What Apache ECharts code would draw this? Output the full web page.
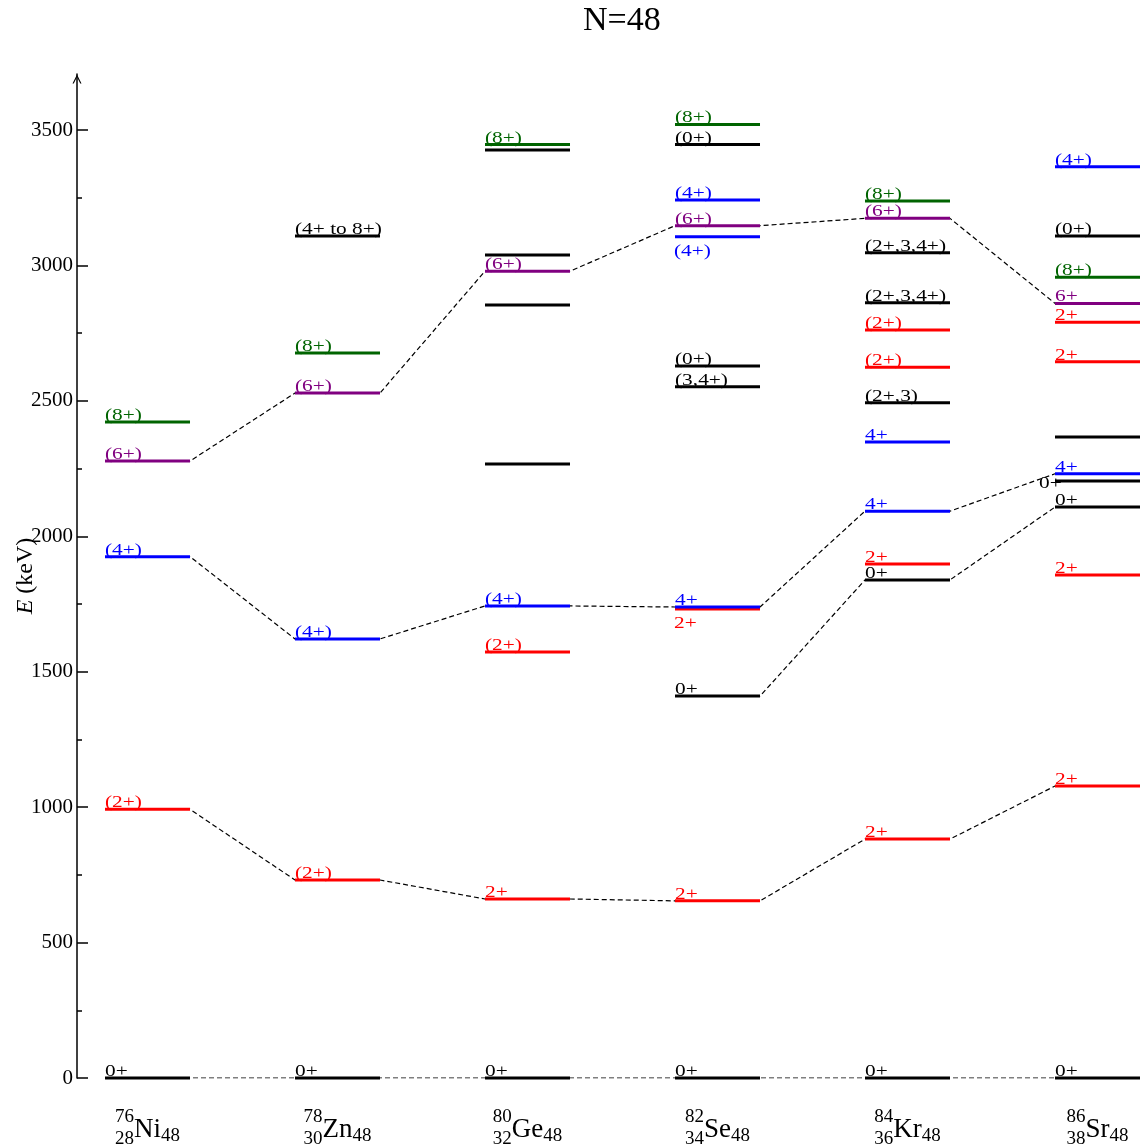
<!DOCTYPE html>
<html>
<head>
<meta charset="utf-8">
<title>N=48</title>
<script src="https://cdn.jsdelivr.net/npm/echarts@6.0.0/dist/echarts.min.js"></script>
<style>
html,body{margin:0;padding:0;background:#ffffff;}
#chart{width:1142px;height:1147px;}
</style>
</head>
<body>
<div id="chart"></div>
<script>
// ---------------- data ----------------
const elements = ['Ni', 'Zn', 'Ge', 'Se', 'Kr', 'Sr'];
const massNumbers = [76, 78, 80, 82, 84, 86];
const protonNumbers = [28, 30, 32, 34, 36, 38];
const neutronNumber = 48;

// levels: [energy (keV), spin-parity label, colour key, label placement]
const levelsNi76 = [[0,'0+','k'],[992,'(2+)','r'],[1925,'(4+)','b'],[2278,'(6+)','p'],[2422,'(8+)','g']];
const levelsZn78 = [[0,'0+','k'],[731,'(2+)','r'],[1621,'(4+)','b'],[2529,'(6+)','p'],[2677,'(8+)','g'],[3109,'(4+ to 8+)','k']];
const levelsGe80 = [[0,'0+','k'],[661,'2+','r'],[1573,'(2+)','r'],[1743,'(4+)','b'],[2267,'','k'],[2854,'','k'],[2979,'(6+)','p'],[3039,'','k'],[3426,'','k'],[3447,'(8+)','g']];
const levelsSe82 = [[0,'0+','k'],[654,'2+','r'],[1410,'0+','k'],[1732,'2+','r','below'],[1739,'4+','b'],[2552,'(3,4+)','k'],[2629,'(0+)','k'],[3106,'(4+)','b','below'],[3147,'(6+)','p'],[3242,'(4+)','b'],[3447,'(0+)','k'],[3521,'(8+)','g']];
const levelsKr84 = [[0,'0+','k'],[882,'2+','r'],[1839,'0+','k'],[1898,'2+','r'],[2093,'4+','b'],[2348,'4+','b'],[2493,'(2+,3)','k'],[2624,'(2+)','r'],[2762,'(2+)','r'],[2862,'(2+,3,4+)','k'],[3047,'(2+,3,4+)','k'],[3174,'(6+)','p'],[3238,'(8+)','g']];
const levelsSr86 = [[0,'0+','k'],[1078,'2+','r'],[1857,'2+','r'],[2108,'0+','k'],[2204,'0+','k','left'],[2231,'4+','b'],[2367,'','k'],[2645,'2+','r'],[2790,'2+','r'],[2860,'6+','p'],[2957,'(8+)','g'],[3109,'(0+)','k'],[3365,'(4+)','b']];

// dashed connections between columns
const bandGround  = [0, 0, 0, 0, 0, 0];
const bandFirst2  = [992, 731, 661, 654, 882, 1078];
const bandFirst4  = [1925, 1621, 1743, 1739, 2093, 2231];
const bandFirst6  = [2278, 2529, 2979, 3147, 3174, 2860];
const bandSecond0 = [null, null, null, 1410, 1839, 2108];

// axis ticks
const yTicks = [0, 500, 1000, 1500, 2000, 2500, 3000, 3500];
const yMinorTicks = [250, 750, 1250, 1750, 2250, 2750, 3250];
const columnTicks = [0, 1, 2, 3, 4, 5];

// ---------------- styling ----------------
const colours = { k: '#000000', r: '#ff0000', b: '#0000ff', p: '#800080', g: '#006400' };
const SERIF = '"Liberation Serif", "Times New Roman", serif';
const HALF = 42.5 / 190; // half width of a level, in column units

const allLevels = [levelsNi76, levelsZn78, levelsGe80, levelsSe82, levelsKr84, levelsSr86];
const levelList = [];
allLevels.forEach(function (lv, col) {
  lv.forEach(function (l) {
    levelList.push({ col: col, e: l[0], label: l[1], c: l[2], pos: l[3] || 'above' });
  });
});

function renderLevel(params, api) {
  const lv = levelList[params.dataIndex];
  const a = api.coord([api.value(0) - HALF, api.value(1)]);
  const b = api.coord([api.value(0) + HALF, api.value(1)]);
  const color = colours[lv.c];
  const children = [{
    type: 'line',
    shape: { x1: a[0], y1: a[1], x2: b[0], y2: b[1] },
    style: { stroke: color, lineWidth: 3 }
  }];
  if (lv.label) {
    let x = a[0], y = a[1] - 6.5;
    if (lv.pos === 'below') { x = a[0] - 1; y = a[1] + 14.8; }
    else if (lv.pos === 'left') { x = a[0] - 16; y = a[1] + 2.3; }
    children.push({
      type: 'text',
      x: x, y: y, scaleX: 1.22,
      style: { text: lv.label, x: 0, y: 0, fill: color, font: '17.5px ' + SERIF, align: 'left', verticalAlign: 'middle' }
    });
  }
  return { type: 'group', children: children };
}

function bandSeries(band) {
  const pts = [];
  band.forEach(function (e, i) {
    if (e != null) { pts.push([i - HALF, e], [i + HALF, e]); }
  });
  return {
    type: 'line', data: pts, symbol: 'none', silent: true, z: 1,
    lineStyle: { color: '#000', width: 1.2, type: [5, 3] }
  };
}

const chart = echarts.init(document.getElementById('chart'));
chart.setOption({
  animation: false,
  backgroundColor: '#ffffff',
  title: {
    text: 'N=48', left: 583, top: 4, padding: 0,
    textStyle: { fontFamily: SERIF, fontSize: 34, fontWeight: 'normal', color: '#000' }
  },
  grid: { left: 77, top: 74, width: 1065, height: 1004, containLabel: false, outerBoundsMode: 'none' },
  xAxis: {
    type: 'value', min: -0.3711, max: 5.2342,
    axisLine: { show: false }, axisTick: { show: false }, splitLine: { show: false },
    axisLabel: {
      customValues: columnTicks,
      margin: 33,
      color: '#000',
      formatter: function (v) {
        const i = Math.round(v);
        return '{sup|' + massNumbers[i] + '}\n{sub|' + protonNumbers[i] + '}{el|' + elements[i] + '}{subN|' + neutronNumber + '}';
      },
      rich: {
        sup: { fontFamily: SERIF, fontSize: 19, lineHeight: 12, align: 'left', color: '#000' },
        sub: { fontFamily: SERIF, fontSize: 19, lineHeight: 24, padding: [8, 0, 0, 0], color: '#000' },
        el: { fontFamily: SERIF, fontSize: 27, lineHeight: 24, padding: [0, 0, 10, 0], color: '#000' },
        subN: { fontFamily: SERIF, fontSize: 19, lineHeight: 24, padding: [3, 0, 0, 0], color: '#000' }
      }
    }
  },
  yAxis: [{
    type: 'value', position: 'left', min: 0, max: 3707,
    axisLine: {
      show: true, onZero: false,
      lineStyle: { color: '#000', width: 1.5 },
      symbol: ['none', 'path://M0,10 L5,0 L10,10 L8.6,10 L5,2.8 L1.4,10 Z'],
      symbolSize: [9, 10], symbolOffset: [0, -5]
    },
    axisTick: { show: true, inside: true, length: 11, customValues: yTicks, lineStyle: { color: '#000', width: 1.5 } },
    minorTick: { show: false },
    splitLine: { show: false },
    axisLabel: {
      customValues: yTicks, margin: 4, color: '#000', fontFamily: SERIF, fontSize: 21,
      formatter: function (v) { return String(v); }
    },
    name: '{i|E} (keV)', nameLocation: 'middle', nameGap: 39, nameRotate: 90, nameMoveOverlap: false,
    nameTextStyle: {
      fontFamily: SERIF, fontSize: 24, color: '#000',
      rich: { i: { fontFamily: SERIF, fontSize: 24, fontStyle: 'italic', color: '#000' } }
    }
  }, {
    type: 'value', position: 'left', min: 0, max: 3707, offset: 0,
    axisLine: { show: false, onZero: false },
    axisTick: { show: true, inside: true, length: 5, customValues: yMinorTicks, lineStyle: { color: '#000', width: 1.5 } },
    axisLabel: { show: false },
    splitLine: { show: false }
  }],
  series: [
    bandSeries(bandGround),
    bandSeries(bandFirst2),
    bandSeries(bandFirst4),
    bandSeries(bandFirst6),
    bandSeries(bandSecond0),
    {
      type: 'custom', z: 2, clip: false, silent: true,
      renderItem: renderLevel,
      encode: { x: 0, y: 1 },
      data: levelList.map(function (l) { return [l.col, l.e]; })
    }
  ]
});
</script>
</body>
</html>
